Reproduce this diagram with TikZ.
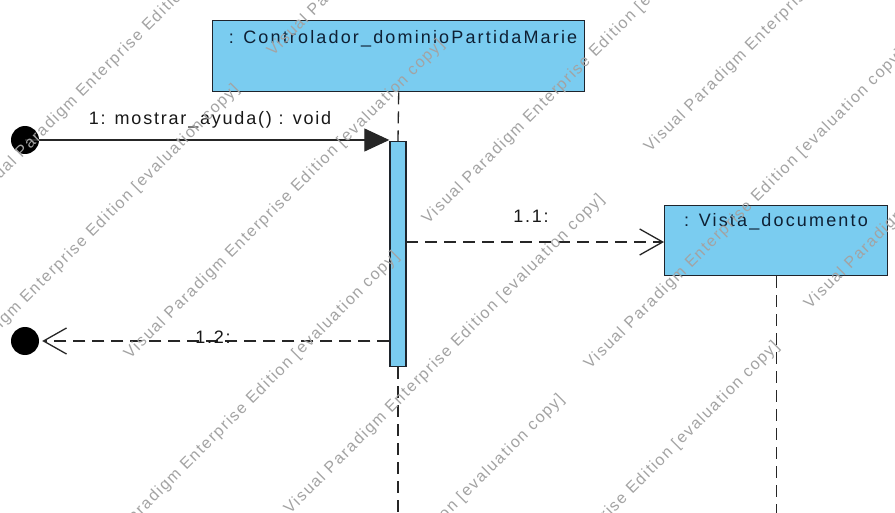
\documentclass[tikz,border=0pt]{standalone}
\usepackage{fontspec}
\setmainfont{Liberation Sans}
\newfontfamily\objfont[LetterSpace=12]{Liberation Sans}
\newfontfamily\msgfont[LetterSpace=10]{Liberation Sans}
\newfontfamily\wmfont[LetterSpace=10]{Liberation Sans}
\usetikzlibrary{arrows.meta}

\definecolor{objfill}{RGB}{122,204,240}
\definecolor{objline}{RGB}{30,36,44}
\definecolor{objtext}{RGB}{14,32,52}
\definecolor{msgtext}{RGB}{24,24,24}

\newcommand\wmtext{Visual Paradigm Enterprise Edition [evaluation copy]}

\tikzset{
  objbox/.style={draw=objline, fill=objfill, line width=1.4pt, inner sep=0pt, anchor=north west},
  actbox/.style={draw=objline, fill=objfill, line width=1.4pt, inner sep=0pt, anchor=north,
                 minimum width=16pt},
  objname/.style={text=objtext, font=\objfont\fontsize{18pt}{21pt}\selectfont, inner sep=0pt, anchor=base},
  msglabel/.style={text=msgtext, font=\msgfont\fontsize{18pt}{21pt}\selectfont, inner sep=0pt, anchor=base},
  enddot/.style={circle, fill=black, draw=none, minimum size=28pt, inner sep=0pt},
  lifeline/.style={draw=black!85, line width=1.3pt, dash pattern=on 12pt off 7pt},
  callmsg/.style={draw=black!85, line width=1.3pt, -{Triangle[length=25pt,width=23pt]}},
  retmsg/.style={draw=black!85, line width=1.3pt, dash pattern=on 12pt off 7pt,
                 -{Straight Barb[length=23pt,width=26pt,line width=1.3pt]}},
  wm/.style={text=black!36, font=\wmfont\fontsize{16pt}{18pt}\selectfont, rotate=45, inner sep=0pt}
}

\begin{document}
\begin{tikzpicture}[x=1pt,y=-1pt]
  \useasboundingbox (0,0) rectangle (895,513);
  \fill[white] (0,0) rectangle (895,513);

  % lifeline heads
  \node[objbox, minimum width=372pt, minimum height=71pt] (ctrl) at (212,20) {};
  \node[objname] (ctrlname) at (403,44) {: Controlador\_dominioPartidaMarie};
  \node[objbox, minimum width=223pt, minimum height=70pt] (vista) at (664,205) {};
  \node[objname] (vistaname) at (776,227) {: Vista\_documento};

  % lifelines and activation bar
  \coordinate (ctrlend) at (398,513);
  \node[actbox, minimum height=225pt] (act) at (398,141) {};
  \draw[lifeline] (ctrl.south) -- (act.north);
  \draw[lifeline] (act.south) -- (ctrlend);
  \draw[lifeline] (vista.south) -- (vista.south |- ctrlend);

  % found message
  \node[enddot] (start) at (25,140) {};
  \draw[callmsg] (start.center) -- (start -| act.west);
  \node[msglabel] (lbl1) at (210,125) {1: mostrar\_ayuda() : void};

  % 1.1
  \coordinate (m11) at (406,242);
  \draw[retmsg] (m11) -- (m11 -| vista.west);
  \node[msglabel] (lbl11) at (531,223) {1.1:};

  % 1.2 lost reply
  \node[enddot] (stop) at (25,341) {};
  \draw[retmsg, shorten >=3pt] (stop -| act.west) -- (stop.east);
  \node[msglabel] (lbl12) at (213,343) {1.2:};

  % evaluation watermark
  \node[wm, anchor=base west] (wm1) at (-19,199) {\wmtext};
  \node[wm, anchor=base east] (wm2) at (240,90) {\wmtext};
  \node[wm, anchor=base west] (wm3) at (273,57) {\wmtext};
  \node[wm, anchor=base west] (wm4) at (130,360) {\wmtext};
  \node[wm, anchor=base east] (wm5) at (400,257) {\wmtext};
  \node[wm, anchor=base west] (wm6) at (428,225) {\wmtext};
  \node[wm, anchor=base west] (wm7) at (290,515) {\wmtext};
  \node[wm, anchor=base west] (wm8) at (650,153) {\wmtext};
  \node[wm, anchor=base east] (wm9) at (565,400) {\wmtext};
  \node[wm, anchor=base west] (wm10) at (590,370) {\wmtext};
  \node[wm, anchor=base east] (wm11) at (780,347) {\wmtext};
  \node[wm, anchor=base west] (wm12) at (810,310) {\wmtext};
\end{tikzpicture}
\end{document}
